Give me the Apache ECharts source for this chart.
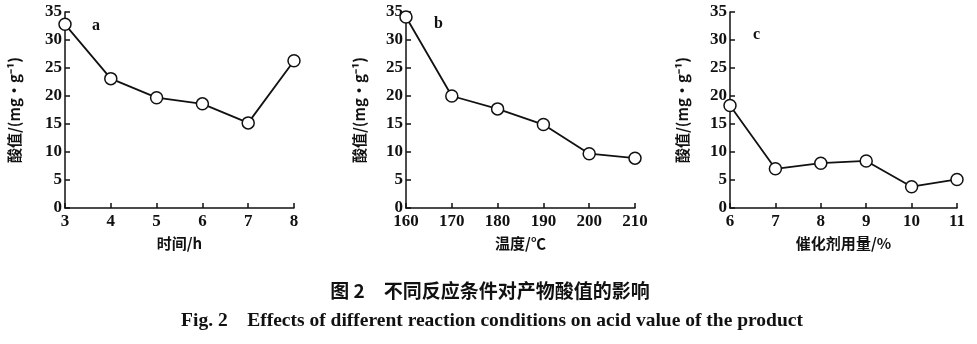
<!DOCTYPE html>
<html>
<head>
<meta charset="utf-8">
<script src="https://cdn.jsdelivr.net/npm/echarts@6/dist/echarts.min.js"></script>
<style>html,body{margin:0;padding:0;background:#fff;}#chart{width:977px;height:344px;}</style>
</head>
<body>
<div id="chart"></div>
<script>
const timeH = [3, 4, 5, 6, 7, 8];
const acidA = [32.8, 23.1, 19.7, 18.6, 15.2, 26.3];
const temperature = [160, 170, 180, 190, 200, 210];
const acidB = [34.1, 20.0, 17.7, 14.9, 9.7, 8.9];
const catalyst = [6, 7, 8, 9, 10, 11];
const acidC = [18.3, 7.0, 8.0, 8.4, 3.8, 5.1];
const yTicks = [0, 5, 10, 15, 20, 25, 30, 35];
const panelLetters = ['a', 'b', 'c'];
const xNames = ['时间/h', '温度/℃', '催化剂用量/%'];
const yName = '酸值/(mg·g⁻¹)';
const captionCn = '图 2　不同反应条件对产物酸值的影响';
const captionEn = 'Fig. 2    Effects of different reaction conditions on acid value of the product';

const serif = '"Liberation Serif", "DejaVu Serif", serif';
const cjk = '"Noto Sans CJK SC", sans-serif';

const grids = [
  {left: 65, top: 12, width: 229, height: 196},
  {left: 406, top: 12, width: 229, height: 196},
  {left: 730, top: 12, width: 227, height: 196}
];
const xRanges = [
  {min: 3, max: 8, interval: 1},
  {min: 160, max: 210, interval: 10},
  {min: 6, max: 11, interval: 1}
];
const yGaps = [43, 39, 40];
const axisLine = {show: true, lineStyle: {color: '#111', width: 1.5}};
const axisTick = {show: true, inside: true, length: 5, lineStyle: {color: '#111', width: 1.5}};

const chart = echarts.init(document.getElementById('chart'));
const seriesData = [[timeH, acidA], [temperature, acidB], [catalyst, acidC]];

const option = {
  animation: false,
  grid: grids,
  xAxis: grids.map((g, i) => ({
    type: 'value', gridIndex: i,
    min: xRanges[i].min, max: xRanges[i].max, interval: xRanges[i].interval,
    axisLine, axisTick, splitLine: {show: false},
    axisLabel: {color: '#111', fontFamily: serif, fontSize: 17, fontWeight: 'bold', margin: 5},
    name: xNames[i], nameLocation: 'middle', nameGap: 28,
    nameTextStyle: {color: '#111', fontFamily: cjk, fontSize: 15, fontWeight: 'bold'}
  })),
  yAxis: grids.map((g, i) => ({
    type: 'value', gridIndex: i, min: 0, max: 35, interval: 5,
    axisLine, axisTick, splitLine: {show: false},
    axisLabel: {color: '#111', fontFamily: serif, fontSize: 17, fontWeight: 'bold', margin: 3},
    name: yName, nameLocation: 'middle', nameGap: yGaps[i], nameRotate: 90,
    nameTextStyle: {color: '#111', fontFamily: cjk, fontSize: 15, fontWeight: 'bold'}
  })),
  series: seriesData.map((d, i) => ({
    type: 'line', xAxisIndex: i, yAxisIndex: i,
    data: d[0].map((x, k) => [x, d[1][k]]),
    symbol: 'circle', symbolSize: 12,
    lineStyle: {color: '#111', width: 1.8},
    itemStyle: {color: '#fff', borderColor: '#111', borderWidth: 1.5}
  })),
  graphic: [
    {type: 'text', left: 92, top: 18, style: {text: panelLetters[0], font: 'bold 16px ' + serif, fill: '#111'}},
    {type: 'text', left: 434, top: 16, style: {text: panelLetters[1], font: 'bold 16px ' + serif, fill: '#111'}},
    {type: 'text', left: 753, top: 27, style: {text: panelLetters[2], font: 'bold 16px ' + serif, fill: '#111'}},
    {type: 'text', x: 490, y: 291, style: {text: captionCn, font: 'bold 19px ' + cjk, fill: '#111', align: 'center', verticalAlign: 'middle'}},
    {type: 'text', x: 492, y: 321, style: {text: captionEn, font: 'bold 19.5px ' + serif, fill: '#111', align: 'center', verticalAlign: 'middle'}}
  ]
};
chart.setOption(option);
</script>
</body>
</html>
